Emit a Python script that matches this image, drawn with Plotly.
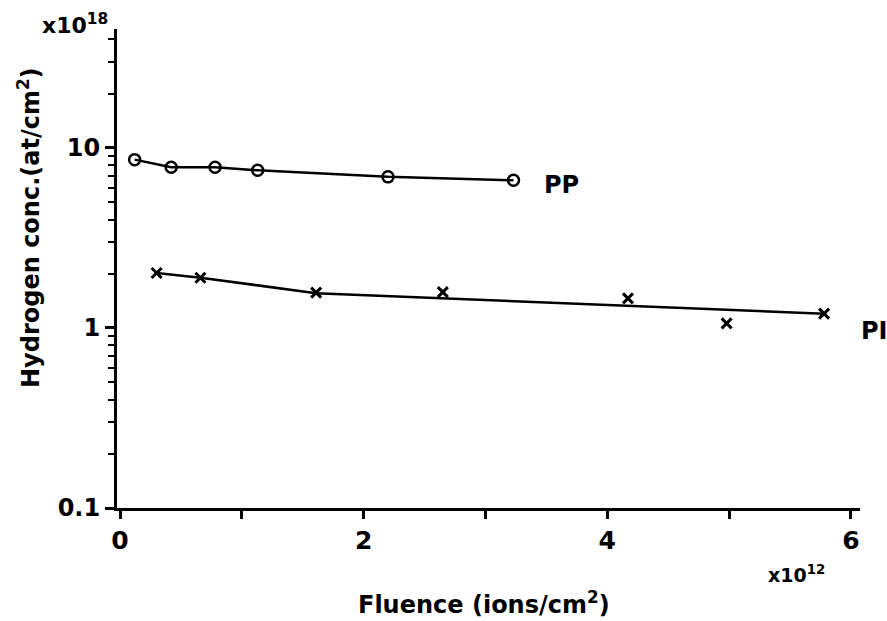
import plotly.graph_objects as go

# Fluence in units of 1e12 ions/cm^2, hydrogen content in units of 1e18 at/cm^2
pp_fluence = [0.12, 0.42, 0.78, 1.13, 2.20, 3.23]
pp_conc = [8.6, 7.8, 7.8, 7.5, 6.9, 6.6]

pi_fluence = [0.30, 0.66, 1.61, 2.65, 4.17, 4.98, 5.78]
pi_conc = [2.02, 1.90, 1.57, 1.58, 1.46, 1.06, 1.20]

# smoothed trend drawn through the PI measurements
pi_fit_fluence = [0.30, 0.66, 1.61, 5.78]
pi_fit_conc = [2.02, 1.90, 1.56, 1.20]

x_ticks = [0, 2, 4, 6]
x_minor = [1, 3, 5]
y_ticks = [0.1, 1, 10]
y_ticklabels = ["0.1", "1", "10"]
y_minor = [0.2, 0.3, 0.4, 0.5, 0.6, 0.7, 0.8, 0.9,
           2, 3, 4, 5, 6, 7, 8, 9, 20, 30, 40]

FONT = "DejaVu Sans"
W, H = 887, 621
L, R, T, B = 117, 27, 29, 113


def px(xp):
    return (xp - L) / (W - L - R)


def py(yp):
    return (H - B - yp) / (H - T - B)


def bfont(size):
    return dict(size=size, family=FONT, color="black", weight="bold")


fig = go.Figure()

fig.add_trace(go.Scatter(
    x=pp_fluence, y=pp_conc, mode="lines+markers",
    line=dict(color="black", width=2.5),
    marker=dict(symbol="circle-open", size=11, color="black",
                line=dict(width=2.5, color="black")),
    showlegend=False,
))

fig.add_trace(go.Scatter(
    x=pi_fit_fluence, y=pi_fit_conc, mode="lines",
    line=dict(color="black", width=2.5),
    showlegend=False,
))

fig.add_trace(go.Scatter(
    x=pi_fluence, y=pi_conc, mode="markers",
    marker=dict(symbol="x-thin-open", size=10, color="black",
                line=dict(width=3, color="black")),
    showlegend=False,
))

annotations = [
    dict(x=px(542), y=py(185), text="PP", xanchor="left", yanchor="middle",
         font=bfont(24)),
    dict(x=px(859), y=py(331), text="PI", xanchor="left", yanchor="middle",
         font=bfont(24)),
    dict(x=px(40), y=py(24), text="x10<sup>18</sup>", xanchor="left",
         yanchor="middle", font=bfont(22)),
    dict(x=px(766), y=py(574), text="x10<sup>12</sup>", xanchor="left",
         yanchor="middle", font=bfont(19)),
    dict(x=px(484), y=py(603), text="Fluence (ions/cm<sup>2</sup>)",
         xanchor="center", yanchor="middle", font=bfont(24)),
    dict(x=px(29), y=py(228), text="Hydrogen conc.(at/cm<sup>2</sup>)",
         textangle=-90, xanchor="center", yanchor="middle", font=bfont(24)),
]
for a in annotations:
    a.update(xref="paper", yref="paper", showarrow=False)

fig.update_layout(
    width=W, height=H,
    margin=dict(l=L, r=R, t=T, b=B),
    paper_bgcolor="white", plot_bgcolor="white",
    font=dict(family=FONT, color="black", size=24),
    annotations=annotations,
    xaxis=dict(
        range=[-0.025, 6.075], tickvals=x_ticks,
        ticktext=[str(v) for v in x_ticks],
        ticks="outside", ticklen=8, tickwidth=2.5, tickcolor="black",
        showline=True, linecolor="black", linewidth=3, showgrid=False,
        zeroline=False, tickfont=bfont(25),
        minor=dict(tickvals=x_minor, ticks="outside", ticklen=8,
                   tickwidth=2.5, tickcolor="black", showgrid=False),
    ),
    yaxis=dict(
        type="log", range=[-1, 1.66], tickvals=y_ticks,
        ticktext=y_ticklabels,
        ticks="outside", ticklen=9, tickwidth=2.5, tickcolor="black",
        showline=True, linecolor="black", linewidth=3, showgrid=False,
        zeroline=False, tickfont=bfont(24),
        minor=dict(tickvals=y_minor, ticks="outside", ticklen=6,
                   tickwidth=2, tickcolor="black", showgrid=False),
    ),
)

fig.write_html("out.html")
